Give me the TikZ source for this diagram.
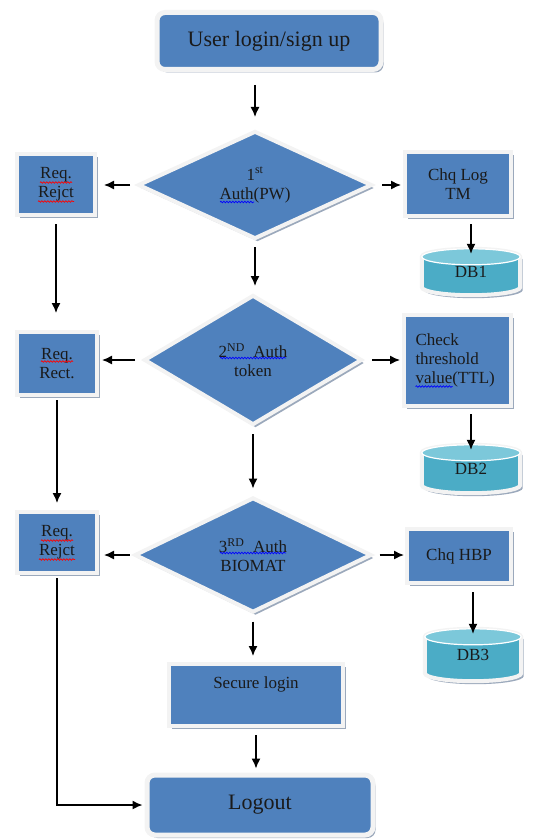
\documentclass[tikz,border=0pt]{standalone}
\usepackage{fontspec}
\setmainfont{Liberation Serif}
\usetikzlibrary{shapes.geometric,shadows,arrows.meta,calc,backgrounds,decorations.pathmorphing}
\definecolor{boxblue}{HTML}{4F81BD}
\definecolor{frame}{HTML}{F3F3F3}
\definecolor{dbteal}{HTML}{4BACC6}
\definecolor{dbtop}{HTML}{7CC8DA}
\definecolor{shadowgray}{HTML}{8A9AB0}
\definecolor{ink}{HTML}{1A1A1A}
\tikzset{
  base/.style={draw=frame, line width=4pt, fill=boxblue,
    drop shadow={shadow xshift=2.5pt, shadow yshift=-3pt, fill=shadowgray, opacity=0.85},
    align=center, inner sep=0pt, text=ink, font=\fontsize{17}{19}\selectfont},
  box/.style={base, rectangle},
  rbox/.style={base, rectangle, rounded corners=8pt, line width=5pt, font=\fontsize{22}{24}\selectfont},
  dia/.style={base, diamond},
  dbn/.style={rectangle, inner sep=0pt, text=ink, font=\fontsize{17}{19}\selectfont},
  arr/.style={-{Latex[length=10pt,width=9pt]}, line width=1.4pt, black},
  squig/.style={line width=0.7pt, decorate, decoration={snake, amplitude=0.8pt, segment length=3pt}},
}
\newcommand\dbcyl[1]{%
  \path[fill=dbteal, draw=frame, line width=4pt,
    drop shadow={shadow xshift=2.5pt, shadow yshift=-3pt, fill=shadowgray, opacity=0.85}]
    let \p1=(#1.north west), \p2=(#1.south east), \n1={(\x2-\x1)/2} in
    (\x1,\y1-8pt) -- (\x1,\y2+8pt)
    arc[start angle=180, end angle=360, x radius=\n1, y radius=8pt]
    -- (\x2,\y1-8pt)
    arc[start angle=0, end angle=180, x radius=\n1, y radius=8pt] -- cycle;
  \path[fill=dbtop, draw=white, line width=1.2pt]
    let \p1=(#1.north west), \p2=(#1.south east), \n1={(\x2-\x1)/2} in
    (\x1+\n1,\y1-8pt) ellipse[x radius=\n1, y radius=8pt];
}
\begin{document}
\begin{tikzpicture}[x=1pt,y=-1pt]
\useasboundingbox (0,0) rectangle (542,840);

% main column
\node[rbox, minimum width=224pt, minimum height=57pt] (login) at (269,41) {User login/sign up};
\node[dia, minimum width=234pt, minimum height=108pt] (d1) at (255,185)
  {1\textsuperscript{st}\\Auth(PW)};
\node[dia, minimum width=218pt, minimum height=130pt] (d2) at (253,360)
  {2\textsuperscript{ND}\ \ Auth\\token};
\node[dia, minimum width=237pt, minimum height=115pt] (d3) at (253,555)
  {3\textsuperscript{RD}\ \ Auth\\BIOMAT};
\node[box, minimum width=174pt, minimum height=62pt] (secure) at (256,695)
  {\raisebox{7pt}[0pt][0pt]{Secure login}};
\node[rbox, minimum width=226pt, minimum height=60pt] (logout) at (260,805) {Logout};

% left column
\node[box, minimum width=78pt, minimum height=61pt] (rj1) at (56,184.5) {Req.\\Rejct};
\node[box, minimum width=80pt, minimum height=63pt] (rj2) at (57,363.5) {Req.\\Rect.};
\node[box, minimum width=80pt, minimum height=61pt] (rj3) at (57,542.5) {Req.\\Rejct};

% right column
\node[box, minimum width=106pt, minimum height=64pt] (c1) at (458,184) {Chq Log\\TM};
\node[box, minimum width=107pt, minimum height=91pt, align=left, text width=84pt] (c2) at (457.5,360.5)
  {Check\\threshold\\value(TTL)};
\node[box, minimum width=104pt, minimum height=54pt] (c3) at (459,556) {Chq HBP};

% databases
\node[dbn, minimum width=98pt, minimum height=46pt] (db1) at (471,272) {DB1};
\node[dbn, minimum width=98pt, minimum height=48pt] (db2) at (471,469) {DB2};
\node[dbn, minimum width=96pt, minimum height=52pt] (db3) at (473,655) {DB3};
\begin{scope}[on background layer]
  \dbcyl{db1}
  \dbcyl{db2}
  \dbcyl{db3}
\end{scope}

% spell-check squiggles
\foreach \n in {rj1,rj2,rj3}
  \draw[squig, red] ([shift={(-16,-2)}]\n.center) -- ++(32,0);
\foreach \n in {rj1,rj3}
  \draw[squig, red] ([shift={(-18,17)}]\n.center) -- ++(36,0);
\draw[squig, blue] ([shift={(-35,17)}]d1.center) -- ++(34,0);
\draw[squig, blue] ([shift={(-33,-2)}]d2.center) -- ++(66,0);
\draw[squig, blue] ([shift={(-33,-2)}]d3.center) -- ++(66,0);
\draw[squig, blue] ([shift={(-42,26)}]c2.center) -- ++(37,0);

% connectors
\draw[arr, shorten <=13pt, shorten >=12pt] (login.south -| d1.north) -- (d1.north);
\draw[arr, shorten <=6pt, shorten >=7pt] (d1.west) -- (rj1.east |- d1.west);
\draw[arr, shorten <=8pt, shorten >=2pt] (d1.east) -- (c1.west |- d1.east);
\draw[arr, shorten <=6pt, shorten >=-5pt] (c1.south -| db1.north) -- (db1.north);
\draw[arr, shorten <=6pt, shorten >=7pt] (d1.south) -- (d1.south |- d2.north);

\draw[arr, shorten <=7pt, shorten >=17pt] (rj1.south) -- (rj1.south |- rj2.north);
\draw[arr, shorten <=3pt, shorten >=7pt] (rj2.south) -- (rj2.south |- rj3.north);

\draw[arr, shorten <=7pt, shorten >=3pt] (d2.west) -- (rj2.east |- d2.west);
\draw[arr, shorten <=8pt, shorten >=2pt] (d2.east) -- (c2.west |- d2.east);
\draw[arr, shorten <=6pt, shorten >=-5pt] (c2.south -| db2.north) -- (db2.north);
\draw[arr, shorten <=7pt, shorten >=7pt] (d2.south) -- (d2.south |- d3.north);

\draw[arr, shorten <=3pt, shorten >=5pt] (d3.west) -- (rj3.east |- d3.west);
\draw[arr, shorten <=6pt, shorten >=1pt] (d3.east) -- (c3.west |- d3.east);
\draw[arr, shorten <=7pt, shorten >=-5pt] (c3.south -| db3.north) -- (db3.north);
\draw[arr, shorten <=7pt, shorten >=6pt] (d3.south) -- (d3.south |- secure.north);
\draw[arr, shorten <=7pt, shorten >=4pt] (secure.south) -- (secure.south |- logout.north);

\draw[arr, shorten <=3pt, shorten >=2pt] (rj3.south) |- (logout.west);
\end{tikzpicture}
\end{document}
